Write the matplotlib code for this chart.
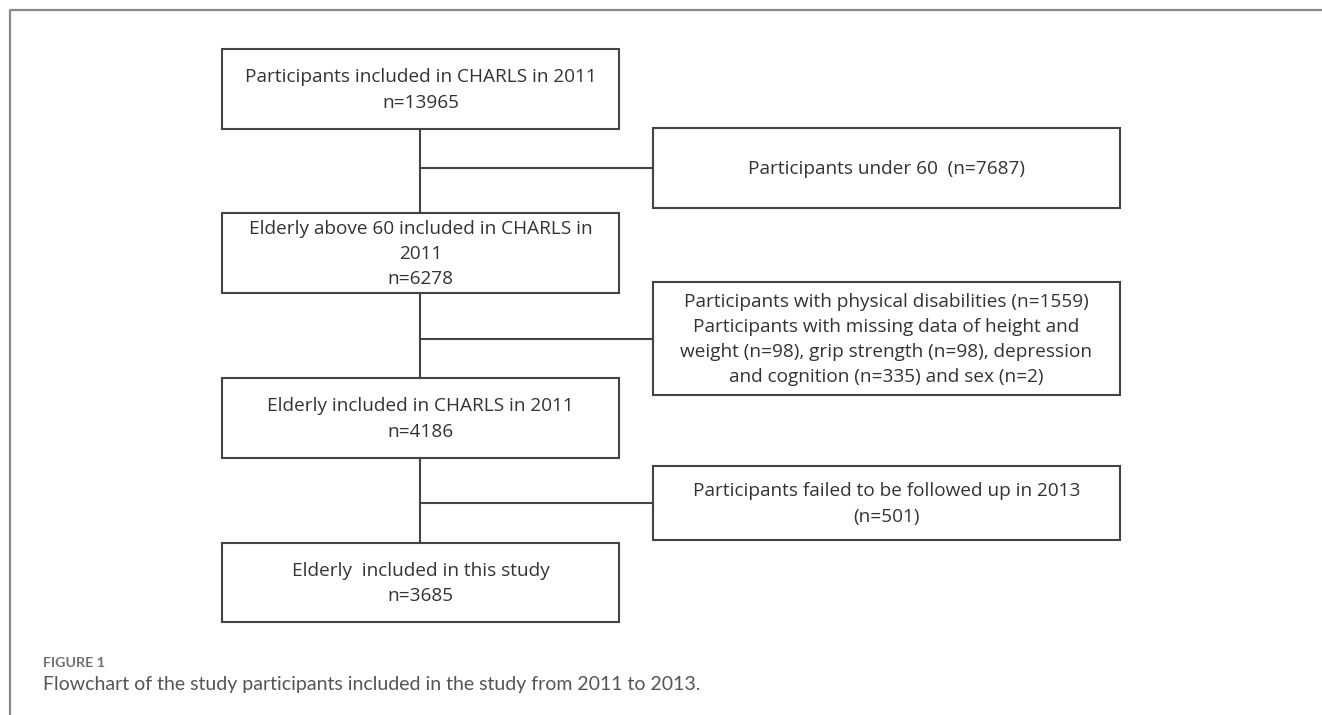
import matplotlib
matplotlib.use("Agg")
import matplotlib.pyplot as plt
from matplotlib.patches import Rectangle

W, H = 1322, 715

# ---- content ----
main_texts = [
    "Participants included in CHARLS in 2011\nn=13965",
    "Elderly above 60 included in CHARLS in\n2011\nn=6278",
    "Elderly included in CHARLS in 2011\nn=4186",
    "Elderly  included in this study\nn=3685",
]
side_texts = [
    "Participants under 60  (n=7687)",
    "Participants with physical disabilities (n=1559)\nParticipants with missing data of height and\n"
    "weight (n=98), grip strength (n=98), depression\nand cognition (n=335) and sex (n=2)",
    "Participants failed to be followed up in 2013\n(n=501)",
]
caption_label = "FIGURE 1"
caption_text = "Flowchart of the study participants included in the study from 2011 to 2013."

# ---- layout (pixels) ----
main_x0, main_x1 = 222, 619
main_boxes_y = [(49, 129), (213, 293), (378, 458), (543, 622)]
side_x0, side_x1 = 653, 1120
side_boxes_y = [(128, 208), (282, 395), (466, 540)]
spine_x = 420

box_color = "#444444"
text_color = "#333333"
lw = 1.5
fs = 13.7
font = ["Open Sans", "DejaVu Sans"]
lsp = 1.52

fig = plt.figure(figsize=(W / 100, H / 100), dpi=100)
ax = fig.add_axes([0, 0, 1, 1])
ax.set_xlim(0, W)
ax.set_ylim(H, 0)
ax.axis("off")

# outer frame
ax.plot([10, 10, W + 5], [H + 5, 10, 10], color="#8a8a8a", lw=1.6, solid_capstyle="butt")

for (y0, y1), t in zip(main_boxes_y, main_texts):
    ax.add_patch(Rectangle((main_x0, y0), main_x1 - main_x0, y1 - y0, fill=False,
                           ec=box_color, lw=lw, zorder=3))
    ax.text((main_x0 + main_x1) / 2, (y0 + y1) / 2 + 1, t, ha="center", va="center",
            fontsize=fs, color=text_color, family=font, linespacing=lsp)

for (y0, y1), t in zip(side_boxes_y, side_texts):
    ax.add_patch(Rectangle((side_x0, y0), side_x1 - side_x0, y1 - y0, fill=False,
                           ec=box_color, lw=lw, zorder=3))
    ax.text((side_x0 + side_x1) / 2, (y0 + y1) / 2 + 1, t, ha="center", va="center",
            fontsize=fs, color=text_color, family=font, linespacing=lsp)

# vertical connectors between main boxes
for (a0, a1), (b0, b1) in zip(main_boxes_y[:-1], main_boxes_y[1:]):
    ax.plot([spine_x, spine_x], [a1, b0], color=box_color, lw=lw, zorder=2)

# horizontal connectors to side boxes
for (y0, y1) in side_boxes_y:
    ym = (y0 + y1) / 2
    ax.plot([spine_x, side_x0], [ym, ym], color=box_color, lw=lw, zorder=2)

# caption
ax.text(43, 667, caption_label, ha="left", va="baseline", fontsize=10.3, color="#707070",
        family=["Lato", "DejaVu Sans"], fontweight="bold")
ax.text(43, 690, caption_text, ha="left", va="baseline", fontsize=14.0, color="#555555",
        family=["Lato", "DejaVu Sans"])

fig.savefig("out.png", dpi=100, facecolor="white")
